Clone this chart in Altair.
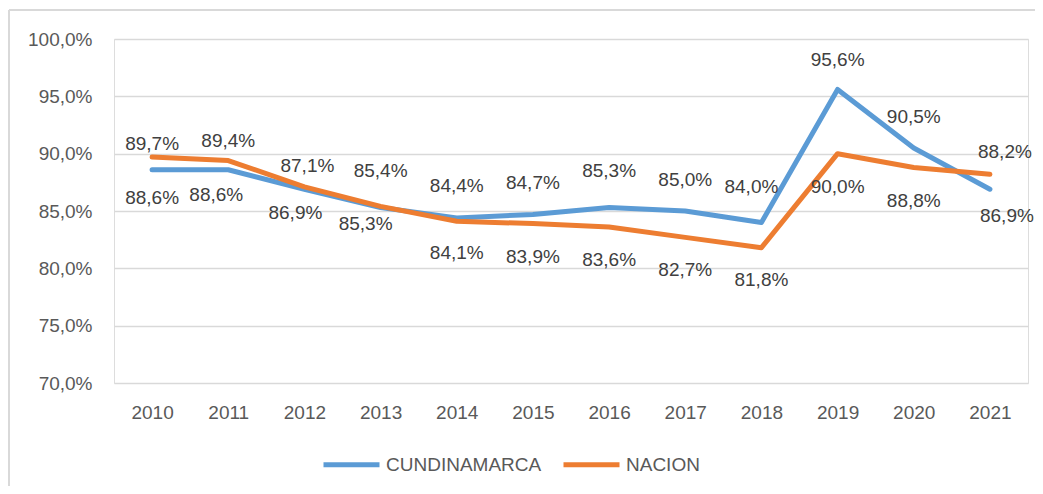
import altair as alt
import pandas as pd

# ---- data ----
years = ["2010", "2011", "2012", "2013", "2014", "2015", "2016", "2017", "2018", "2019", "2020", "2021"]
cundinamarca = [88.6, 88.6, 86.9, 85.3, 84.4, 84.7, 85.3, 85.0, 84.0, 95.6, 90.5, 86.9]
nacion = [89.7, 89.4, 87.1, 85.4, 84.1, 83.9, 83.6, 82.7, 81.8, 90.0, 88.8, 88.2]
series_names = ["CUNDINAMARCA", "NACION"]
y_ticks = [70, 75, 80, 85, 90, 95, 100]

# ---- label placement (pixel offsets from each point) ----
cund_label_off = [(0, 28), (-12, 25), (-9, 24), (-15, 16), (0, -32), (0, -31),
                  (0, -37), (0, -31), (-10, -35), (0, -29), (0, -31), (17, 27)]
nac_label_off = [(0, -13), (0, -20), (3, -21), (0, -35), (0, 32), (0, 33),
                 (0, 33), (0, 33), (0, 32), (0, 33), (0, 34), (15, -22)]

rows = []
for i, yr in enumerate(years):
    rows.append({"year": yr, "serie": series_names[0], "value": cundinamarca[i],
                 "dx": cund_label_off[i][0], "dy": cund_label_off[i][1]})
    rows.append({"year": yr, "serie": series_names[1], "value": nacion[i],
                 "dx": nac_label_off[i][0], "dy": nac_label_off[i][1]})
df = pd.DataFrame(rows)
df["label"] = df["value"].map(lambda v: f"{v:.1f}".replace(".", ",") + "%")

FONT = "Liberation Sans, Arial, sans-serif"
FS = 19
W, H = 914, 344

x_scale = alt.Scale(type="point", padding=0.5)
x_enc = alt.X("year:O", sort=years, scale=x_scale,
              axis=alt.Axis(title=None, labelAngle=0, ticks=False, tickSize=0, domain=False,
                            labelFont=FONT, labelFontSize=FS, labelColor="#595959",
                            labelPadding=20, grid=False))
y_enc = alt.Y("value:Q", scale=alt.Scale(domain=[70, 100], nice=False, zero=False),
              axis=alt.Axis(title=None, values=y_ticks, ticks=False, tickSize=0, domain=False,
                            labelExpr="replace(format(datum.value, '.1f'), '.', ',') + '%'",
                            labelFont=FONT, labelFontSize=FS, labelColor="#595959",
                            labelPadding=22, grid=True, gridColor="#d9d9d9", gridWidth=1.5))

color_enc = alt.Color("serie:N", scale=alt.Scale(domain=series_names, range=["#5B9BD5", "#ED7D31"]),
                      legend=alt.Legend(title=None, orient="none", direction="horizontal",
                                        legendX=207, legendY=395, symbolType="stroke",
                                        symbolSize=3136, symbolStrokeWidth=5,
                                        labelFont=FONT, labelFontSize=FS, labelColor="#595959",
                                        labelOffset=4, columnPadding=11, labelLimit=0))

lines = alt.Chart(df).mark_line(strokeWidth=5, strokeCap="round", strokeJoin="round").encode(
    x=x_enc, y=y_enc, color=color_enc, order=alt.Order("year:O"))

labels = alt.Chart(df).mark_text(
    font=FONT, fontSize=FS, color="#404040", baseline="middle",
    dx=alt.ExprRef(expr="datum.dx"), dy=alt.ExprRef(expr="datum.dy"),
).encode(
    x=alt.X("year:O", sort=years, scale=x_scale),
    y=alt.Y("value:Q"),
    text="label:N")

border_data = pd.DataFrame({"k": [0]})
top_border = alt.Chart(border_data).mark_rule(color="#d9d9d9", strokeWidth=2).encode(
    x=alt.value(-105), x2=alt.value(W + 7), y=alt.value(-29))
left_border = alt.Chart(border_data).mark_rule(color="#d9d9d9", strokeWidth=2).encode(
    x=alt.value(-105), y=alt.value(-29), y2=alt.value(H + 120))

chart = alt.layer(top_border, left_border, lines, labels).properties(
    width=W, height=H,
    autosize=alt.AutoSizeParams(type="none"),
    padding={"left": 106, "top": 31, "right": 7, "bottom": 103},
).configure_view(stroke=None).configure(background="white")

chart.save("out.html", embed_options={"renderer": "svg", "actions": False})
